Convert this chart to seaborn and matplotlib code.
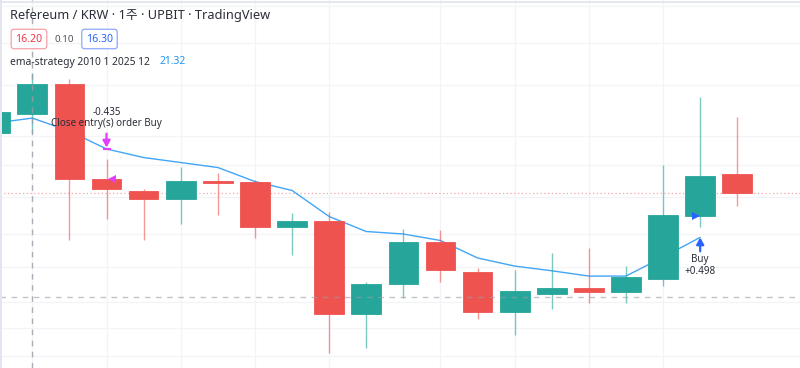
import matplotlib
matplotlib.use("Agg")
import matplotlib.pyplot as plt
from matplotlib.patches import Rectangle
import numpy as np
import pandas as pd
import seaborn as sns

# weekly candles, Refereum / KRW (index 0 is the partly visible bar at the left edge)
opens = [20.31, 21.62, 23.62, 17.18, 16.38, 15.80, 17.06, 16.95, 13.93, 14.32, 8.00,
         10.02, 12.89, 10.83, 8.13, 9.36, 9.75, 9.51, 10.36, 14.68, 17.50]
highs = [22.10, 24.39, 23.96, 18.54, 16.50, 18.01, 17.61, 17.11, 14.85, 14.93, 10.17,
         13.80, 13.71, 11.13, 10.99, 12.17, 12.49, 11.28, 18.13, 22.77, 21.37]
lows = [20.00, 20.31, 13.03, 14.46, 13.03, 14.12, 14.73, 13.19, 12.01, 5.37, 5.69,
        9.09, 10.19, 7.64, 6.59, 8.36, 8.73, 8.73, 9.90, 13.93, 15.34]
closes = [21.75, 23.62, 17.18, 16.50, 15.82, 17.06, 16.93, 13.93, 14.32, 8.00, 10.04,
          12.89, 10.97, 8.13, 9.54, 9.75, 9.51, 10.53, 14.73, 17.38, 16.25]
ema = [20.99, 21.32, 20.44, 19.22, 18.64, 18.30, 17.96, 17.01, 16.40, 14.63, 13.61,
       13.44, 13.00, 11.81, 11.26, 10.94, 10.58, 10.58, 11.87, 13.21]

# strategy orders
exit_bar, exit_label, exit_profit = 3, "Close entry(s) order Buy", "-0.435"
entry_bar, entry_label, entry_profit = 19, "Buy", "+0.498"

grid_levels = [28.94, 26.41, 23.57, 20.10, 18.13, 15.93, 13.42, 11.21, 8.83, 7.03, 5.14]
grid_bars = [1, 3, 5, 7, 9, 12, 14, 16, 18]
crosshair_bar, crosshair_price = 1, 9.13

title = "Refereum / KRW · 1주 · UPBIT · TradingView"
bid, spread, ask = "16.20", "0.10", "16.30"
study_label, study_value = "ema-strategy 2010 1 2025 12", "21.32"

GREEN, RED = "#26a69a", "#ef5350"
df = pd.DataFrame({"open": opens, "high": highs, "low": lows, "close": closes})
df["bar"] = np.arange(len(df))
df["color"] = np.where(df["close"] >= df["open"], GREEN, RED)

sns.set_style("white")
plt.rcParams["font.family"] = ["Noto Sans", "Noto Sans CJK KR", "DejaVu Sans"]

fig = plt.figure(figsize=(8, 3.68), dpi=100)
ax = fig.add_axes([0, 0, 1, 1])

# grid
for g in grid_levels:
    ax.axhline(g, color="#f3f4f8", lw=0.9, zorder=0)
for b in grid_bars:
    ax.axvline(b, color="#f3f4f8", lw=0.9, zorder=0)

# current price line
ax.axhline(closes[-1], color="#f23645", lw=0.9, ls=(0, (1, 2)), alpha=0.45, zorder=1)

# ema line (behind candles)
ema_df = pd.DataFrame({"bar": np.arange(len(ema)), "ema": ema})
sns.lineplot(data=ema_df, x="bar", y="ema", color="#42a5f5", lw=1, ax=ax, zorder=2)

# candles
ax.vlines(df["bar"], df["low"], df["high"], colors=df["color"], lw=1, alpha=0.6, zorder=3)
ax.bar(df["bar"], df["close"] - df["open"], bottom=df["open"], width=0.8,
       color=df["color"], edgecolor=df["color"], lw=0.6, zorder=4)

# crosshair
ax.axvline(crosshair_bar, color="#9a9ca3", lw=1, ls=(0, (4, 4)), alpha=0.8, zorder=6)
ax.axhline(crosshair_price, color="#9a9ca3", lw=1, ls=(0, (4, 4)), alpha=0.6, zorder=6)

MAG, BLUE = "#e040fb", "#2962ff"
arrow = dict(arrowstyle="-|>,head_width=0.22,head_length=0.4", lw=1.6, shrinkA=0, shrinkB=0)

# exit order: arrow down to the ema, fill marker at the bar open
ax.annotate("", xy=(exit_bar, ema[exit_bar] + 0.1), xytext=(0, 10), textcoords="offset points",
            arrowprops=dict(arrow, color=MAG), zorder=7)
ax.plot(exit_bar, ema[exit_bar], marker="_", ms=6, mew=1.6, color=MAG, zorder=7)
ax.plot(exit_bar + 0.15, opens[exit_bar], marker="<", ms=5.5, color=MAG, mew=0, zorder=7)
ax.annotate(exit_label, xy=(exit_bar, ema[exit_bar]), xytext=(0, 18), textcoords="offset points",
            ha="center", va="center", fontsize=7.1, color="#2a2e39", zorder=8)
ax.annotate(exit_profit, xy=(exit_bar, ema[exit_bar]), xytext=(0, 26.5), textcoords="offset points",
            ha="center", va="center", fontsize=7.1, color="#2a2e39", zorder=8)

# entry order
ax.annotate("", xy=(entry_bar, ema[entry_bar]), xytext=(0, -10), textcoords="offset points",
            arrowprops=dict(arrow, color=BLUE), zorder=7)
ax.plot(entry_bar - 0.12, opens[entry_bar], marker=">", ms=5.5, color=BLUE, mew=0, zorder=7)
ax.annotate(entry_label, xy=(entry_bar, ema[entry_bar]), xytext=(0, -16), textcoords="offset points",
            ha="center", va="center", fontsize=7.1, color="#2a2e39", zorder=8)
ax.annotate(entry_profit, xy=(entry_bar, ema[entry_bar]), xytext=(0, -24.5), textcoords="offset points",
            ha="center", va="center", fontsize=7.1, color="#2a2e39", zorder=8)

ax.set_xlim(0.129, 21.69)
ax.set_ylim(4.33, 29.35)
ax.axis("off")

# frame bits
W, H = 800, 368
fig.add_artist(Rectangle((0, 0), 1.5 / W, 1, transform=fig.transFigure, color="#e3e6ef", lw=0))
fig.add_artist(plt.Line2D([0, 1], [1 - 1.7 / H] * 2, transform=fig.transFigure, color="#e0e3eb", lw=1.2))


def fx(x):
    return x / W


def fy(y):
    return 1 - y / H


# header
fig.text(fx(10), fy(16), title, fontsize=9.2, color="#2a2e39", va="center", ha="left")
fig.text(fx(29), fy(39), bid, fontsize=7.6, color="#f23645", va="center", ha="center",
         bbox=dict(boxstyle="round,pad=0.4,rounding_size=0.25", fc="white", ec="#f7a1a8", lw=0.9))
fig.text(fx(64), fy(39), spread, fontsize=7, color="#50535e", va="center", ha="center")
fig.text(fx(99.5), fy(39), ask, fontsize=7.6, color="#2962ff", va="center", ha="center",
         bbox=dict(boxstyle="round,pad=0.4,rounding_size=0.25", fc="white", ec="#8fa8ff", lw=0.9))
fig.text(fx(10), fy(62), study_label, fontsize=7.4, color="#2a2e39", va="center", ha="left")
fig.text(fx(160), fy(62), study_value, fontsize=7.4, color="#2196f3", va="center", ha="left")

fig.savefig("out.png", dpi=100)
